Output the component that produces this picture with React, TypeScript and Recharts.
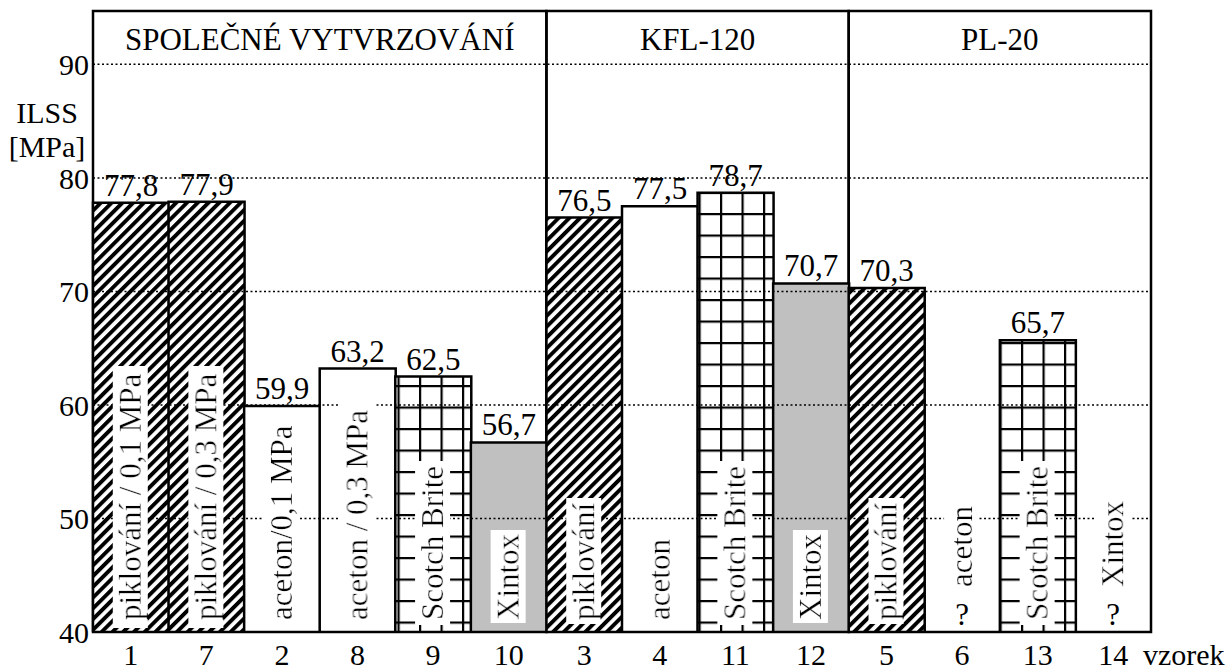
import React from 'react';
import { BarChart, Bar, XAxis, YAxis, Cell, LabelList, ReferenceArea, ReferenceLine } from 'recharts';

const samples = ['1', '7', '2', '8', '9', '10', '3', '4', '11', '12', '5', '6', '13', '14'];
const ilss = [77.8, 77.9, 59.9, 63.2, 62.5, 56.7, 76.5, 77.5, 78.7, 70.7, 70.3, null, 65.7, null];
const treatment = ['hatch', 'hatch', 'plain', 'plain', 'grid', 'gray', 'hatch', 'plain', 'grid', 'gray', 'hatch', 'plain', 'grid', 'plain'];
const barText = [
  'piklování / 0,1 MPa',
  'piklování / 0,3 MPa',
  'aceton/0,1 MPa',
  'aceton / 0,3 MPa',
  'Scotch Brite',
  'Xintox',
  'piklování',
  'aceton',
  'Scotch Brite',
  'Xintox',
  'piklování',
  'aceton',
  'Scotch Brite',
  'Xintox',
];

const groupNames = ['SPOLEČNÉ VYTVRZOVÁNÍ', 'KFL-120', 'PL-20'];
const groupFrom = ['1', '3', '5'];
const groupTo = ['10', '12', '14'];

const yTicks = [40, 50, 60, 70, 80, 90];

const FONT = "'Liberation Serif', 'Times New Roman', serif";

const FILLS: Record<string, string> = {
  hatch: 'url(#hatch)',
  grid: 'url(#grid)',
  gray: '#c0c0c0',
  plain: '#ffffff',
};

const data = samples.map((s, i) => ({ sample: s, ilss: ilss[i] }));

const SampleTick = (props: any) => {
  const { x, y, payload, index } = props;
  const i = typeof index === 'number' ? index : samples.indexOf(payload.value);
  const empty = ilss[i] == null;
  const labelY = empty ? y - 45 : y - 12;
  return (
    <g>
      <text x={x} y={y + 33} textAnchor="middle" fontSize={30} fontFamily={FONT} fill="#000">
        {payload.value}
      </text>
      <text
        transform={`translate(${x + 10},${labelY}) rotate(-90)`}
        fontSize={31}
        fontFamily={FONT}
        fill="#000"
        filter="url(#whitebg)"
      >
        {barText[i]}
      </text>
      {empty && (
        <text x={x} y={y - 7} textAnchor="middle" fontSize={31} fontFamily={FONT} fill="#000">
          ?
        </text>
      )}
    </g>
  );
};

const App = () => {
  return (
    <div style={{ position: 'absolute', left: 0, top: 0, fontFamily: FONT }}>
      <BarChart
        width={1227}
        height={672}
        data={data}
        margin={{ top: 11, right: 76, bottom: 0, left: 0 }}
        barCategoryGap={0}
        barGap={0}
        style={{ fontFamily: FONT }}
      >
        <defs>
          <pattern id="hatch" patternUnits="userSpaceOnUse" width="7.6" height="7.6" patternTransform="rotate(45)">
            <rect width="7.6" height="7.6" fill="#fff" />
            <rect x="0" y="0" width="3.9" height="7.6" fill="#000" />
          </pattern>
          <pattern id="grid" patternUnits="userSpaceOnUse" x="10.5" y="19.5" width="21.5" height="21.5">
            <rect width="21.5" height="21.5" fill="#fff" />
            <rect x="0" y="0" width="2.2" height="21.5" fill="#000" />
            <rect x="0" y="0" width="21.5" height="2.2" fill="#000" />
          </pattern>
          <filter id="whitebg" x="-0.03" y="0" width="1.06" height="1">
            <feFlood floodColor="#fff" />
            <feComposite in="SourceGraphic" operator="over" />
          </filter>
        </defs>
        {groupNames.map((name, i) => (
          <ReferenceArea
            key={name}
            x1={groupFrom[i]}
            x2={groupTo[i]}
            fill="none"
            fillOpacity={0}
            stroke="#000"
            strokeWidth={2.5}
            ifOverflow="visible"
            label={{ value: name, position: 'insideTop', offset: 17, fontSize: 31, fill: '#000', fontFamily: FONT }}
          />
        ))}
        <Bar dataKey="ilss" stroke="#000" strokeWidth={2.5} isAnimationActive={false}>
          {data.map((d, i) => (
            <Cell key={`cell-${i}`} fill={FILLS[treatment[i]]} />
          ))}
          <LabelList
            dataKey="ilss"
            position="top"
            offset={7}
            fontSize={31}
            fontFamily={FONT}
            fill="#000"
            formatter={(v: any) => (v == null ? '' : String(v).replace('.', ','))}
          />
        </Bar>
        {yTicks.slice(1).map((v) => (
          <ReferenceLine key={v} y={v} stroke="#000" strokeWidth={1.5} strokeDasharray="2 2.5" />
        ))}
        <YAxis
          type="number"
          domain={[40, 94.7]}
          ticks={yTicks}
          allowDataOverflow
          width={93}
          axisLine={false}
          tickLine={false}
          tickSize={0}
          tickMargin={4}
          tick={{ fontSize: 30, fill: '#000', fontFamily: FONT }}
          label={{
            content: (p: any) => {
              const vb = p.viewBox || { x: 0, y: 11 };
              return (
                <text x={vb.x + 47} y={vb.y + 112} textAnchor="middle" fontSize={30} fontFamily={FONT} fill="#000">
                  <tspan x={vb.x + 47}>ILSS</tspan>
                  <tspan x={vb.x + 47} dy={34}>[MPa]</tspan>
                </text>
              );
            },
          }}
        />
        <XAxis
          dataKey="sample"
          interval={0}
          height={40}
          axisLine={false}
          tickLine={false}
          tickSize={0}
          tickMargin={0}
          tick={<SampleTick />}
          label={{
            content: (p: any) => {
              const vb = p.viewBox || { x: 93, y: 632, width: 1058 };
              return (
                <text x={vb.x + vb.width - 8} y={vb.y + 33} fontSize={30} fontFamily={FONT} fill="#000">
                  vzorek
                </text>
              );
            },
          }}
        />
      </BarChart>
    </div>
  );
};

export default App;
